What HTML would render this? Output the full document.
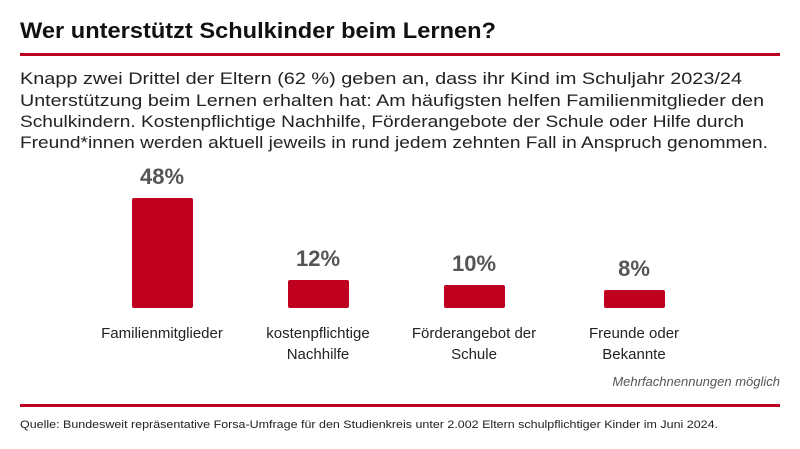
<!DOCTYPE html>
<html><head><meta charset="utf-8"><style>
html,body{margin:0;padding:0;background:#fff;}
svg{display:block;font-family:"Liberation Sans",sans-serif;}
</style></head><body>
<svg width="800" height="449" viewBox="0 0 800 449" xmlns="http://www.w3.org/2000/svg">
<rect width="800" height="449" fill="#fff"/>
<text x="20" y="38" font-size="22" font-weight="bold" fill="#111" textLength="476" lengthAdjust="spacingAndGlyphs">Wer unterstützt Schulkinder beim Lernen?</text>
<rect x="20" y="53" width="760" height="3" fill="#c0001f"/>
<g font-size="17" fill="#222">
<text x="20" y="84" textLength="722" lengthAdjust="spacingAndGlyphs">Knapp zwei Drittel der Eltern (62 %) geben an, dass ihr Kind im Schuljahr 2023/24</text>
<text x="20" y="106" textLength="744" lengthAdjust="spacingAndGlyphs">Unterstützung beim Lernen erhalten hat: Am häufigsten helfen Familienmitglieder den</text>
<text x="20" y="127" textLength="724" lengthAdjust="spacingAndGlyphs">Schulkindern. Kostenpflichtige Nachhilfe, Förderangebote der Schule oder Hilfe durch</text>
<text x="20" y="148" textLength="748" lengthAdjust="spacingAndGlyphs">Freund*innen werden aktuell jeweils in rund jedem zehnten Fall in Anspruch genommen.</text>
</g>
<g fill="#c0001f">
<rect x="132" y="198" width="61" height="110" rx="2"/>
<rect x="288" y="280" width="61" height="28" rx="2"/>
<rect x="444" y="285" width="61" height="23" rx="2"/>
<rect x="604" y="290" width="61" height="18" rx="2"/>
</g>
<g font-size="22" font-weight="bold" fill="#555" text-anchor="middle">
<text x="162" y="184">48%</text>
<text x="318" y="266">12%</text>
<text x="474" y="271">10%</text>
<text x="634" y="276">8%</text>
</g>
<g font-size="15" fill="#222" text-anchor="middle">
<text x="162" y="338">Familienmitglieder</text>
<text x="318" y="338">kostenpflichtige</text>
<text x="318" y="359">Nachhilfe</text>
<text x="474" y="338">Förderangebot der</text>
<text x="474" y="359">Schule</text>
<text x="634" y="338">Freunde oder</text>
<text x="634" y="359">Bekannte</text>
</g>
<text x="780" y="386" font-size="13" font-style="italic" fill="#555" text-anchor="end">Mehrfachnennungen möglich</text>
<rect x="20" y="404" width="760" height="3" fill="#c0001f"/>
<text x="20" y="428" font-size="11" fill="#222" textLength="698" lengthAdjust="spacingAndGlyphs">Quelle: Bundesweit repräsentative Forsa-Umfrage für den Studienkreis unter 2.002 Eltern schulpflichtiger Kinder im Juni 2024.</text>
</svg>
</body></html>
